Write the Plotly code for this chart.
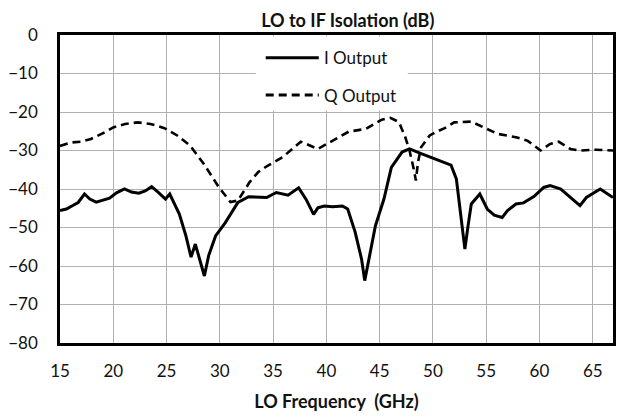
import plotly.graph_objects as go

# LO frequency (GHz) and isolation (dB)
i_freq = [15.0, 15.6, 16.2, 16.7, 17.3, 17.8, 18.4, 19.0, 19.65, 20.3, 21.05, 21.7,
          22.4, 23.0, 23.6, 24.2, 24.9, 25.3, 25.7, 26.2, 26.8, 27.3, 27.7, 28.2,
          28.55, 28.95, 29.6, 30.5, 31.1, 31.7, 32.7, 33.6, 34.4, 35.3, 36.4, 37.4,
          38.1, 38.8, 39.2, 39.8, 40.6, 41.5, 42.0, 42.7, 43.3, 43.6, 44.0, 44.6,
          45.4, 46.1, 47.1, 47.8, 48.9, 50.2, 51.0, 51.7, 52.2, 52.5, 52.8, 53.0,
          53.3, 53.6, 54.4, 55.1, 55.75, 56.5, 57.0, 57.8, 58.5, 59.5, 60.4, 61.0,
          62.0, 62.9, 63.8, 64.4, 65.7, 66.9]
i_output = [-45.6, -45.2, -44.3, -43.5, -41.3, -42.6, -43.4, -43.0, -42.4, -41.0, -40.0, -40.8,
            -41.1, -40.5, -39.4, -40.8, -42.6, -41.3, -43.5, -46.5, -52.0, -57.7, -54.3, -59.5,
            -62.6, -57.3, -52.2, -48.8, -46.0, -43.5, -42.0, -42.1, -42.2, -40.9, -41.6, -39.7,
            -42.7, -46.6, -44.9, -44.4, -44.6, -44.4, -45.2, -51.2, -58.2, -63.8, -58.2, -49.6,
            -42.6, -34.4, -30.4, -29.6, -30.8, -32.2, -33.0, -33.8, -37.4, -44.3, -52.1, -55.6,
            -49.5, -43.9, -41.3, -45.2, -46.8, -47.4, -45.6, -43.9, -43.6, -41.9, -39.6, -39.1,
            -40.0, -42.2, -44.3, -42.2, -40.0, -42.2]

q_freq = [15.0, 16.1, 17.0, 17.9, 18.9, 20.0, 21.1, 22.3, 23.5, 24.8, 26.0, 27.2,
          28.5, 29.9, 31.0, 31.7, 32.8, 33.6, 34.4, 35.9, 37.6, 38.4, 39.2, 40.3,
          42.1, 43.7, 45.2, 46.0, 46.8, 47.4, 47.8, 48.2, 48.4, 48.6, 48.9, 49.7,
          50.2, 51.1, 52.0, 53.6, 54.8, 56.1, 57.9, 58.9, 60.1, 61.0, 61.8, 62.9,
          63.8, 65.3, 66.9]
q_output = [-28.8, -27.9, -27.7, -27.0, -25.7, -24.0, -23.1, -22.7, -23.1, -24.2, -26.1, -28.7,
            -33.5, -39.5, -43.4, -43.0, -38.2, -35.6, -34.1, -31.7, -27.7, -28.7, -29.6, -27.9,
            -25.1, -24.4, -22.0, -21.5, -22.6, -26.5, -30.0, -34.8, -37.8, -33.0, -29.1, -26.1,
            -25.3, -24.2, -22.7, -22.5, -24.0, -25.7, -26.6, -27.5, -30.0, -28.3, -27.7, -29.6,
            -30.0, -29.8, -30.0]

x_ticks = [15, 20, 25, 30, 35, 40, 45, 50, 55, 60, 65]
y_ticks = [0, -10, -20, -30, -40, -50, -60, -70, -80]
series_names = ["I Output", "Q Output"]

FONT = "Lato, 'Open Sans', sans-serif"
INK = "#111111"
Q_DASH = "8px,5px"

fig = go.Figure()
fig.add_trace(go.Scatter(x=i_freq, y=i_output, mode="lines", name=series_names[0],
                         line=dict(color="black", width=3), showlegend=False))
fig.add_trace(go.Scatter(x=q_freq, y=q_output, mode="lines", name=series_names[1],
                         line=dict(color="black", width=2.6, dash=Q_DASH), showlegend=False))

# hand-made legend box (white patch over the gridlines, like the original)
fig.add_shape(type="rect", xref="paper", yref="paper", x0=0.354, x1=0.629, y0=0.755, y1=0.995,
              fillcolor="white", line=dict(width=0), layer="above")
for yy, dash, name in [(0.926, "solid", series_names[0]), (0.805, Q_DASH, series_names[1])]:
    fig.add_shape(type="line", xref="paper", yref="paper", x0=0.372, x1=0.468, y0=yy, y1=yy,
                  line=dict(color="black", width=3, dash=dash), layer="above")
    fig.add_annotation(xref="paper", yref="paper", x=0.474, y=yy, text=name, showarrow=False,
                       xanchor="left", yanchor="middle", font=dict(size=17, color=INK, family=FONT))

fig.update_layout(
    width=621, height=417,
    margin=dict(l=60, r=5, t=35, b=74),
    paper_bgcolor="white", plot_bgcolor="white",
    font=dict(family=FONT, size=17, color=INK),
    title=dict(text="<b>LO to IF Isolation (dB)</b>", x=0.56, xref="container", xanchor="center",
               y=0.95, yref="container", yanchor="middle", font=dict(size=18, color=INK)),
    xaxis=dict(
        range=[15, 66.9], tickvals=x_ticks, ticks="", showgrid=True, gridcolor="#b0b0b0", gridwidth=1,
        showline=True, linecolor="black", linewidth=2.5, mirror=True, zeroline=False,
        ticklabelstandoff=11,
        title=dict(text="<b>LO Frequency\u00a0 (GHz)</b>", font=dict(size=18, color=INK), standoff=16),
    ),
    yaxis=dict(
        range=[-80, 0], tickvals=y_ticks, ticks="", showgrid=True, gridcolor="#b0b0b0", gridwidth=1,
        showline=True, linecolor="black", linewidth=2.5, mirror=True, zeroline=False,
        ticklabelstandoff=16,
    ),
)

# the page body has an 8px default margin; drop it so the 621x417 figure sits at (0, 0)
fig.write_html("out.html", config={"displayModeBar": False},
               post_script="document.body.style.margin='0';")
